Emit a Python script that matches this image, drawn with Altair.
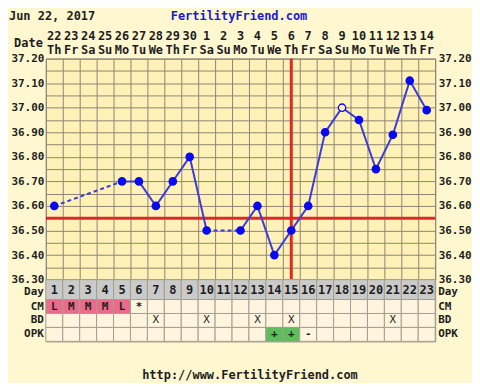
import altair as alt
import pandas as pd

# ---------------- data ----------------
chart_date = "Jun 22, 2017"
site_name = "FertilityFriend.com"
footer_url = "http://www.FertilityFriend.com"

days = list(range(1, 24))
dates = ["22", "23", "24", "25", "26", "27", "28", "29", "30", "1", "2", "3",
         "4", "5", "6", "7", "8", "9", "10", "11", "12", "13", "14"]
weekdays = ["Th", "Fr", "Sa", "Su", "Mo", "Tu", "We", "Th", "Fr", "Sa", "Su", "Mo",
            "Tu", "We", "Th", "Fr", "Sa", "Su", "Mo", "Tu", "We", "Th", "Fr"]
temps = [36.60, None, None, None, 36.70, 36.70, 36.60, 36.70, 36.80, 36.50, None, 36.50,
         36.60, 36.40, 36.50, 36.60, 36.90, 37.00, 36.95, 36.75, 36.89, 37.11, 36.99]
open_days = [18]
coverline = 36.55
ovulation_day = 15
temp_ticks = [36.30, 36.35, 36.40, 36.45, 36.50, 36.55, 36.60, 36.65, 36.70, 36.75,
              36.80, 36.85, 36.90, 36.95, 37.00, 37.05, 37.10, 37.15, 37.20]

table_rows = ["CM", "BD", "OPK"]
cm = ["L", "M", "M", "M", "L", "*", "", "", "", "", "", "", "", "", "", "", "", "", "", "", "", "", ""]
bd = ["", "", "", "", "", "", "X", "", "", "X", "", "", "X", "", "X", "", "", "", "", "", "X", "", ""]
opk = ["", "", "", "", "", "", "", "", "", "", "", "", "", "+", "+", "-", "", "", "", "", "", "", ""]

# ---------------- style ----------------
BG = "#FFF7D0"
PLOT_BG = "#FFF1B8"
CELL_BG = "#FFF5DF"
GRID = "#8C8672"
TGRID = "#A39E90"
DAY_BG = "#CACACA"
PINK = "#EE6A8A"
GREEN = "#5CBF5C"
LINE = "#3C3CD8"
PT = "#0A0AF0"
RED = "#E02828"
TXT = "#1E1E1E"
FONT = "DejaVu Sans Mono"

W = 391
H_T = 222
H_DAY = 20
H_TAB = 42

# ---------------- frames ----------------
info = pd.DataFrame({"day": days, "date": dates, "wd": weekdays,
                     "x0": [d - 0.5 for d in days], "x1": [d + 0.5 for d in days]})
pts = pd.DataFrame({"day": days, "temp": temps}).dropna().reset_index(drop=True)
pts["kind"] = ["open" if d in open_days else "filled" for d in pts["day"]]

rec = pts[["day", "temp"]].values.tolist()
seg_rows = []
for k in range(len(rec) - 1):
    (d1, t1), (d2, t2) = rec[k], rec[k + 1]
    style = "dashed" if d2 - d1 > 1 else "solid"
    seg_rows.append(dict(seg=k, day=d1, temp=t1, style=style))
    seg_rows.append(dict(seg=k, day=d2, temp=t2, style=style))
segs = pd.DataFrame(seg_rows)

cells = []
for i, d in enumerate(days):
    for row, vals in (("CM", cm), ("BD", bd), ("OPK", opk)):
        v = vals[i]
        if row == "CM" and v in ("L", "M"):
            kind = "pink"
        elif row == "OPK" and v == "+":
            kind = "green"
        else:
            kind = "plain"
        cells.append(dict(day=d, x0=d - 0.5, x1=d + 0.5, row=row, val=v, kind=kind))
cells = pd.DataFrame(cells)

# ---------------- scales / encodings ----------------
xs = alt.Scale(domain=[0.5, 23.5], nice=False, zero=False)
ydom = alt.Scale(domain=[36.3, 37.2], nice=False, zero=False)
bounds = [d - 0.5 for d in days] + [23.5]

x_enc = alt.X("day:Q", scale=xs,
              axis=alt.Axis(values=bounds, grid=True, labels=False, ticks=False,
                            domain=False, title=None, gridColor=GRID, gridOpacity=1,
                            gridWidth=1))
label_expr = "abs(round(datum.value*100) % 10) < 0.5 ? format(datum.value, '.2f') : ''"
y_left = alt.Y("temp:Q", scale=ydom,
               axis=alt.Axis(values=temp_ticks, grid=True, gridColor=GRID, gridOpacity=1,
                             ticks=False, domain=False, title=None, labelExpr=label_expr,
                             labelPadding=2, labelFlush=False, orient="left"))
y_right = alt.Y("temp:Q", scale=ydom,
                axis=alt.Axis(values=temp_ticks, grid=False, ticks=False, domain=False,
                              title=None, labelExpr=label_expr, labelPadding=3,
                              labelFlush=False, orient="right"))

cover = alt.Chart(pd.DataFrame({"temp": [coverline]})).mark_rule(
    color=RED, strokeWidth=3).encode(y=alt.Y("temp:Q", scale=ydom, axis=None))
ovul = alt.Chart(pd.DataFrame({"day": [ovulation_day]})).mark_rule(
    color=RED, strokeWidth=3).encode(x=x_enc)

line = alt.Chart(segs).mark_line(color=LINE, strokeWidth=2).encode(
    x=x_enc, y=y_left, detail="seg:N",
    strokeDash=alt.StrokeDash("style:N", scale=alt.Scale(domain=["solid", "dashed"],
                                                         range=[[1, 0], [4, 3]]), legend=None))
points = alt.Chart(pts).mark_point(filled=True, size=55, stroke=PT, strokeWidth=1.3,
                                   opacity=1).encode(
    x=x_enc, y=y_right,
    fill=alt.Fill("kind:N", scale=alt.Scale(domain=["filled", "open"], range=[PT, PLOT_BG]),
                  legend=None))

date_txt = alt.Chart(info).mark_text(fontSize=12, color=TXT).encode(
    x=x_enc, y=alt.value(-23), text="date:N")
wd_txt = alt.Chart(info).mark_text(fontSize=12, color=TXT).encode(
    x=x_enc, y=alt.value(-9), text="wd:N")
date_lbl = alt.Chart(pd.DataFrame({"t": ["Date"]})).mark_text(
    fontSize=12, color=TXT, align="right").encode(x=alt.value(-3), y=alt.value(-16), text="t:N")
title_lbl = alt.Chart(pd.DataFrame({"t": [chart_date]})).mark_text(
    fontSize=12, color=TXT, align="left").encode(x=alt.value(-37), y=alt.value(-43), text="t:N")
site_lbl = alt.Chart(pd.DataFrame({"t": [site_name]})).mark_text(
    fontSize=12, color="#1A1AD0", align="center").encode(x=alt.value(194), y=alt.value(-43), text="t:N")

temp_chart = alt.layer(cover, ovul, line, points, date_txt, wd_txt, date_lbl, title_lbl,
                       site_lbl).resolve_scale(y="independent").properties(width=W, height=H_T)

# day row
xd = alt.X("x0:Q", scale=xs, axis=None)
day_rect = alt.Chart(info).mark_rect(fill=DAY_BG, stroke=TGRID, strokeWidth=1).encode(
    x=xd, x2="x1:Q")
day_num = alt.Chart(info).mark_text(fontSize=12, color=TXT).encode(
    x=alt.X("day:Q", scale=xs, axis=None), text="day:N")
day_lbl_l = alt.Chart(pd.DataFrame({"t": ["Day"]})).mark_text(
    fontSize=11, color=TXT, align="right", dy=2).encode(x=alt.value(-2), text="t:N")
day_lbl_r = alt.Chart(pd.DataFrame({"t": ["Day"]})).mark_text(
    fontSize=11, color=TXT, align="left", dy=2).encode(x=alt.value(W + 3), text="t:N")
day_chart = alt.layer(day_rect, day_num, day_lbl_l, day_lbl_r).properties(width=W, height=H_DAY)

# table rows
yrow = alt.Y("row:N", sort=table_rows,
             scale=alt.Scale(domain=table_rows, paddingInner=0, paddingOuter=0), axis=None)
cell_rect = alt.Chart(cells).mark_rect(stroke=TGRID, strokeWidth=1).encode(
    x=xd, x2="x1:Q", y=yrow,
    fill=alt.Fill("kind:N", scale=alt.Scale(domain=["plain", "pink", "green"],
                                            range=[CELL_BG, PINK, GREEN]), legend=None))
cell_txt_b = alt.Chart(cells).transform_filter("datum.val != 'X'").mark_text(
    fontSize=11, color=TXT).encode(
    x=alt.X("day:Q", scale=xs, axis=None), y=yrow, text="val:N")
cell_txt_x = alt.Chart(cells).transform_filter("datum.val == 'X'").mark_text(
    fontSize=11, color=TXT, fontWeight="normal").encode(
    x=alt.X("day:Q", scale=xs, axis=None), y=yrow, text="val:N")
row_lbl_l = alt.Chart(pd.DataFrame({"row": table_rows})).mark_text(
    fontSize=11, color=TXT, align="right").encode(x=alt.value(-2), y=yrow, text="row:N")
row_lbl_r = alt.Chart(pd.DataFrame({"row": table_rows})).mark_text(
    fontSize=11, color=TXT, align="left").encode(x=alt.value(W + 3), y=yrow, text="row:N")
foot = alt.Chart(pd.DataFrame({"t": [footer_url]})).mark_text(
    fontSize=12, color=TXT, align="center").encode(x=alt.value(205), y=alt.value(H_TAB + 34), text="t:N")
table_chart = alt.layer(cell_rect, cell_txt_b, cell_txt_x, row_lbl_l, row_lbl_r, foot).properties(
    width=W, height=H_TAB)

chart = alt.vconcat(temp_chart, day_chart, table_chart, spacing=0, bounds="flush").resolve_scale(
    fill="independent"
).properties(
    padding={"left": 0, "top": 0, "right": 0, "bottom": 0}, background=BG
).configure_view(fill=PLOT_BG, stroke=GRID, strokeWidth=1).configure_axis(
    labelFont=FONT, labelFontSize=11, labelFontWeight="bold", labelColor=TXT
).configure_text(font=FONT, fontWeight="bold")

chart.save("out.html", embed_options={"renderer": "svg", "actions": False})
